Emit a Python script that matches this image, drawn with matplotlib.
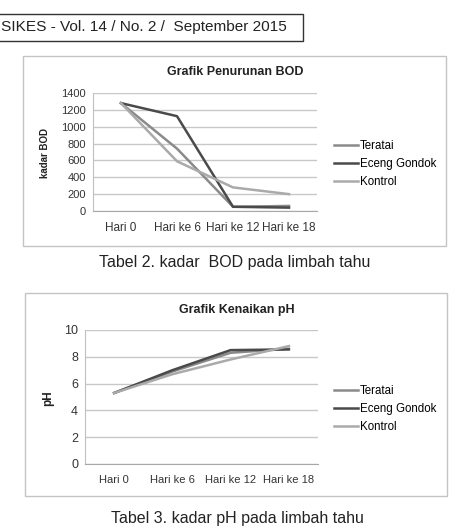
import matplotlib
matplotlib.use("Agg")
import matplotlib.pyplot as plt
from matplotlib.patches import Rectangle

plt.rcParams['font.family'] = ['Liberation Sans', 'DejaVu Sans']

categories = ["Hari 0", "Hari ke 6", "Hari ke 12", "Hari ke 18"]
series_names = ["Teratai", "Eceng Gondok", "Kontrol"]
bod_teratai = [1280, 740, 50, 60]
bod_eceng = [1280, 1125, 50, 40]
bod_kontrol = [1280, 590, 280, 200]
ph_teratai = [5.3, 6.9, 8.3, 8.6]
ph_eceng = [5.3, 7.0, 8.5, 8.55]
ph_kontrol = [5.3, 6.7, 7.8, 8.8]
bod_ticks = [0, 200, 400, 600, 800, 1000, 1200, 1400]
ph_ticks = [0, 2, 4, 6, 8, 10]
colors = ["#8a8a8a", "#4a4a4a", "#aaaaaa"]

W, H = 451, 529
fig = plt.figure(figsize=(W / 100, H / 100), dpi=100)
fig.patch.set_facecolor("white")

def fx(x):
    return x / W

def fy(y):
    return 1 - y / H

# header box
fig.patches.append(Rectangle((fx(-5), fy(41)), fx(308), 27 / H, transform=fig.transFigure,
                             fill=False, edgecolor="#333333", linewidth=1.0))
fig.text(fx(1), fy(27), "SIKES - Vol. 14 / No. 2 /  September 2015", ha="left", va="center",
         fontsize=11.1, color="#222222")

# chart frames
fig.patches.append(Rectangle((fx(23), fy(246)), fx(423), (246 - 56) / H, transform=fig.transFigure,
                             fill=False, edgecolor="#c4c4c4", linewidth=1.0))
fig.patches.append(Rectangle((fx(25), fy(496)), fx(422), (496 - 293) / H, transform=fig.transFigure,
                             fill=False, edgecolor="#c4c4c4", linewidth=1.0))


def style_axes(ax, ticks):
    x = range(len(categories))
    ax.set_xlim(-0.5, len(categories) - 0.5)
    ax.set_ylim(ticks[0], ticks[-1])
    ax.set_yticks(ticks)
    ax.set_xticks(list(x))
    ax.set_xticklabels(categories)
    ax.grid(axis="y", color="#c8c8c8", linewidth=1.0)
    ax.set_axisbelow(True)
    for s in ["top", "right"]:
        ax.spines[s].set_visible(False)
    ax.spines["left"].set_color("#c0c0c0")
    ax.spines["bottom"].set_color("#a8a8a8")
    ax.tick_params(axis="both", length=0, labelsize=8, colors="#333333", pad=5)
    ax.tick_params(axis="x", pad=8)


# BOD chart
ax1 = fig.add_axes([fx(93), fy(211), fx(317 - 93), (211 - 93) / H])
x = list(range(len(categories)))
for vals, c, n in zip([bod_teratai, bod_eceng, bod_kontrol], colors, series_names):
    ax1.plot(x, vals, color=c, linewidth=1.8, label=n)
style_axes(ax1, bod_ticks)
ax1.tick_params(axis="x", labelsize=8.5)
fig.text(fx(45), fy(153), "kadar BOD", rotation=90, ha="center", va="center",
         fontsize=7, fontweight="bold", color="#222222")
fig.text(fx(235), fy(72), "Grafik Penurunan BOD", ha="center", va="center",
         fontsize=9, fontweight="bold", color="#222222")
h, l = ax1.get_legend_handles_labels()
fig.legend(h, l, loc="center left", bbox_to_anchor=(fx(334), fy(164)), frameon=False,
           fontsize=8.3, handlelength=2.1, handletextpad=0.15, labelspacing=0.5,
           borderpad=0, borderaxespad=0)
fig.text(fx(235), fy(263), "Tabel 2. kadar  BOD pada limbah tahu", ha="center", va="center",
         fontsize=11.5, color="#222222")

# pH chart
ax2 = fig.add_axes([fx(85), fy(464), fx(318 - 85), (464 - 330) / H])
for vals, c, n in zip([ph_teratai, ph_eceng, ph_kontrol], colors, series_names):
    ax2.plot(x, vals, color=c, linewidth=1.8, label=n)
style_axes(ax2, ph_ticks)
ax2.tick_params(axis="y", labelsize=9)
fig.text(fx(48), fy(398), "pH", rotation=90, ha="center", va="center",
         fontsize=8.5, fontweight="bold", color="#222222")
fig.text(fx(237), fy(310), "Grafik Kenaikan pH", ha="center", va="center",
         fontsize=9, fontweight="bold", color="#222222")
h, l = ax2.get_legend_handles_labels()
fig.legend(h, l, loc="center left", bbox_to_anchor=(fx(334), fy(409)), frameon=False,
           fontsize=8.3, handlelength=2.1, handletextpad=0.15, labelspacing=0.5,
           borderpad=0, borderaxespad=0)
fig.text(fx(237), fy(518), "Tabel 3. kadar pH pada limbah tahu", ha="center", va="center",
         fontsize=11.5, color="#222222")

fig.savefig("out.png", dpi=100)
